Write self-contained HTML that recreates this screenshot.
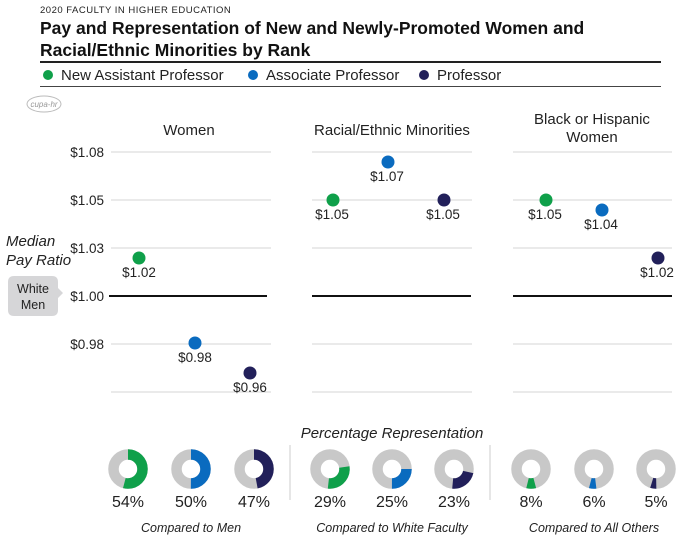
<!DOCTYPE html>
<html><head><meta charset="utf-8"><style>
html,body{margin:0;padding:0;background:#fff;}
svg{display:block;font-family:"Liberation Sans",sans-serif;}
</style></head><body>
<svg width="700" height="544" viewBox="0 0 700 544">
<text x="40" y="13" font-size="9.5" fill="#222" letter-spacing="0.5">2020 FACULTY IN HIGHER EDUCATION</text>
<text x="40" y="34" font-size="17.5" font-weight="bold" fill="#111">Pay and Representation of New and Newly-Promoted Women and</text>
<text x="40" y="56" font-size="17.5" font-weight="bold" fill="#111">Racial/Ethnic Minorities by Rank</text>
<rect x="40" y="61" width="621" height="2" fill="#222"/>
<circle cx="48" cy="75" r="5" fill="#0fa04a"/><text x="61" y="80" font-size="15" fill="#222">New Assistant Professor</text>
<circle cx="253" cy="75" r="5" fill="#0a6bbf"/><text x="266" y="80" font-size="15" fill="#222">Associate Professor</text>
<circle cx="424" cy="75" r="5" fill="#22205a"/><text x="437" y="80" font-size="15" fill="#222">Professor</text>
<rect x="40" y="86" width="621" height="1" fill="#444"/>
<ellipse cx="44" cy="104" rx="17" ry="8" fill="none" stroke="#bbb"/>
<text x="44" y="107" font-size="8" fill="#999" text-anchor="middle" font-style="italic">cupa-hr</text>

<text x="189" y="135" font-size="15" fill="#222" text-anchor="middle">Women</text>
<text x="392" y="135" font-size="15" fill="#222" text-anchor="middle">Racial/Ethnic Minorities</text>
<text x="592" y="124" font-size="15" fill="#222" text-anchor="middle">Black or Hispanic</text>
<text x="592" y="142" font-size="15" fill="#222" text-anchor="middle">Women</text>

<g stroke="#d4d4d4" stroke-width="1">
<line x1="111" x2="271" y1="152" y2="152"/><line x1="312" x2="472" y1="152" y2="152"/><line x1="513" x2="672" y1="152" y2="152"/>
<line x1="111" x2="271" y1="200" y2="200"/><line x1="312" x2="472" y1="200" y2="200"/><line x1="513" x2="672" y1="200" y2="200"/>
<line x1="111" x2="271" y1="248" y2="248"/><line x1="312" x2="472" y1="248" y2="248"/><line x1="513" x2="672" y1="248" y2="248"/>
<line x1="111" x2="271" y1="344" y2="344"/><line x1="312" x2="472" y1="344" y2="344"/><line x1="513" x2="672" y1="344" y2="344"/>
<line x1="111" x2="271" y1="392" y2="392"/><line x1="312" x2="472" y1="392" y2="392"/><line x1="513" x2="672" y1="392" y2="392"/>
</g>
<g stroke="#111" stroke-width="2">
<line x1="109" x2="267" y1="296" y2="296"/><line x1="312" x2="471" y1="296" y2="296"/><line x1="513" x2="672" y1="296" y2="296"/>
</g>
<g font-size="13.5" fill="#222" text-anchor="end">
<text x="104" y="157">$1.08</text><text x="104" y="205">$1.05</text><text x="104" y="253">$1.03</text>
<text x="104" y="301">$1.00</text><text x="104" y="349">$0.98</text>
</g>
<text x="6" y="246" font-size="15" font-style="italic" fill="#222">Median</text>
<text x="6" y="265" font-size="15" font-style="italic" fill="#222">Pay Ratio</text>
<path d="M14 276 H52 Q58 276 58 282 V288 L63 293 L58 298 V310 Q58 316 52 316 H14 Q8 316 8 310 V282 Q8 276 14 276 Z" fill="#d6d6d8"/>
<text x="33" y="293" font-size="12.5" fill="#222" text-anchor="middle">White</text>
<text x="33" y="309" font-size="12.5" fill="#222" text-anchor="middle">Men</text>

<g font-size="13.5" fill="#222" text-anchor="middle">
<circle cx="139" cy="258" r="6.5" fill="#0fa04a"/><text x="139" y="277">$1.02</text>
<circle cx="195" cy="343" r="6.5" fill="#0a6bbf"/><text x="195" y="362">$0.98</text>
<circle cx="250" cy="373" r="6.5" fill="#22205a"/><text x="250" y="392">$0.96</text>
<circle cx="333" cy="200" r="6.5" fill="#0fa04a"/><text x="332" y="219">$1.05</text>
<circle cx="388" cy="162" r="6.5" fill="#0a6bbf"/><text x="387" y="181">$1.07</text>
<circle cx="444" cy="200" r="6.5" fill="#22205a"/><text x="443" y="219">$1.05</text>
<circle cx="546" cy="200" r="6.5" fill="#0fa04a"/><text x="545" y="219">$1.05</text>
<circle cx="602" cy="210" r="6.5" fill="#0a6bbf"/><text x="601" y="229">$1.04</text>
<circle cx="658" cy="258" r="6.5" fill="#22205a"/><text x="657" y="277">$1.02</text>
</g>

<text x="392" y="438" font-size="15" font-style="italic" fill="#222" text-anchor="middle">Percentage Representation</text>
<line x1="290" x2="290" y1="445" y2="500" stroke="#ccc"/>
<line x1="490" x2="490" y1="445" y2="500" stroke="#ccc"/>

<g fill="none" stroke-width="10.5">
<g transform="translate(128,469)"><circle r="14.5" stroke="#c8c8c8"/><circle r="14.5" stroke="#0fa04a" stroke-dasharray="49.2 100" transform="rotate(-90)"/></g>
<g transform="translate(191,469)"><circle r="14.5" stroke="#c8c8c8"/><circle r="14.5" stroke="#0a6bbf" stroke-dasharray="45.6 100" transform="rotate(-90)"/></g>
<g transform="translate(254,469)"><circle r="14.5" stroke="#c8c8c8"/><circle r="14.5" stroke="#22205a" stroke-dasharray="42.8 100" transform="rotate(-90)"/></g>
<g transform="translate(330,469)"><circle r="14.5" stroke="#c8c8c8"/><circle r="14.5" stroke="#0fa04a" stroke-dasharray="26.4 100" transform="rotate(-8)"/></g>
<g transform="translate(392,469)"><circle r="14.5" stroke="#c8c8c8"/><circle r="14.5" stroke="#0a6bbf" stroke-dasharray="22.8 100" transform="rotate(0)"/></g>
<g transform="translate(454,469)"><circle r="14.5" stroke="#c8c8c8"/><circle r="14.5" stroke="#22205a" stroke-dasharray="21 100" transform="rotate(12)"/></g>
<g transform="translate(531,469)"><circle r="14.5" stroke="#c8c8c8"/><circle r="14.5" stroke="#0fa04a" stroke-dasharray="7.3 100" transform="rotate(75)"/></g>
<g transform="translate(594,469)"><circle r="14.5" stroke="#c8c8c8"/><circle r="14.5" stroke="#0a6bbf" stroke-dasharray="5.5 100" transform="rotate(83)"/></g>
<g transform="translate(656,469)"><circle r="14.5" stroke="#c8c8c8"/><circle r="14.5" stroke="#22205a" stroke-dasharray="4.6 100" transform="rotate(89)"/></g>
</g>
<g font-size="16" fill="#222" text-anchor="middle">
<text x="128" y="507">54%</text><text x="191" y="507">50%</text><text x="254" y="507">47%</text>
<text x="330" y="507">29%</text><text x="392" y="507">25%</text><text x="454" y="507">23%</text>
<text x="531" y="507">8%</text><text x="594" y="507">6%</text><text x="656" y="507">5%</text>
</g>
<g font-size="12.5" font-style="italic" fill="#222" text-anchor="middle">
<text x="191" y="532">Compared to Men</text>
<text x="392" y="532">Compared to White Faculty</text>
<text x="594" y="532">Compared to All Others</text>
</g>
</svg>
</body></html>
